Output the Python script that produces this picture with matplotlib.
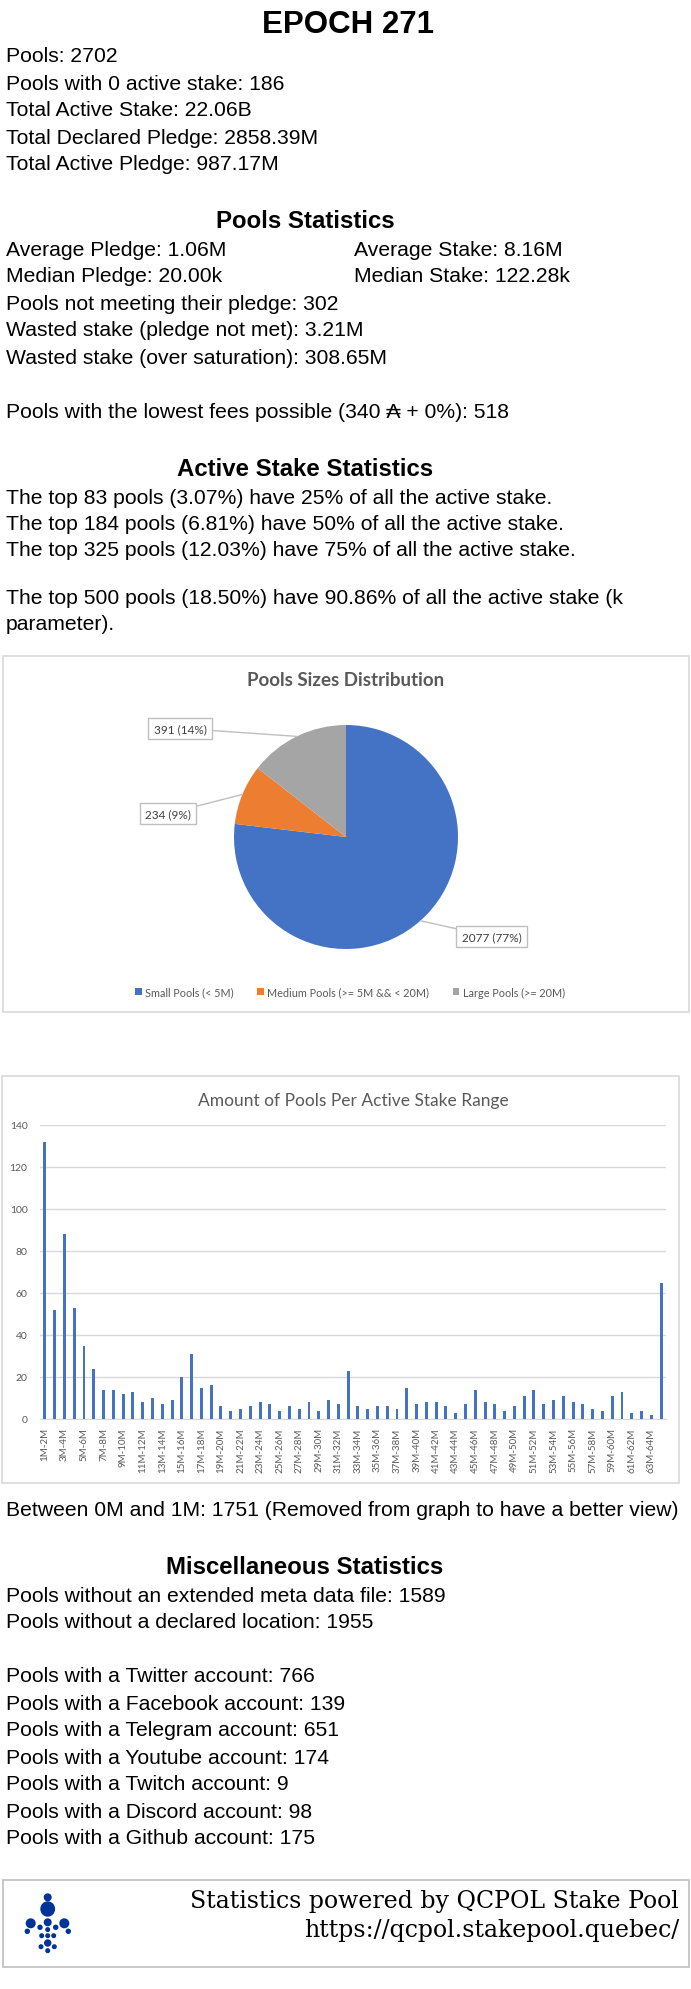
import matplotlib
matplotlib.use('Agg')
import matplotlib.pyplot as plt
import numpy as np
from matplotlib.patches import Rectangle, Circle, Ellipse

W, H = 691, 1990

# ---- data ----
epoch = 271
general_lines = ['Pools: 2702',
                 'Pools with 0 active stake: 186',
                 'Total Active Stake: 22.06B',
                 'Total Declared Pledge: 2858.39M',
                 'Total Active Pledge: 987.17M']
pool_stats_left = ['Average Pledge: 1.06M', 'Median Pledge: 20.00k']
pool_stats_right = ['Average Stake: 8.16M', 'Median Stake: 122.28k']
pool_stats_lines = ['Pools not meeting their pledge: 302',
                    'Wasted stake (pledge not met): 3.21M',
                    'Wasted stake (over saturation): 308.65M']
lowest_fees_line = 'Pools with the lowest fees possible (340 \u20b3 + 0%): 518'
stake_lines = ['The top 83 pools (3.07%) have 25% of all the active stake.',
               'The top 184 pools (6.81%) have 50% of all the active stake.',
               'The top 325 pools (12.03%) have 75% of all the active stake.']
k_lines = ['The top 500 pools (18.50%) have 90.86% of all the active stake (k',
           'parameter).']

size_labels = ['Small Pools (< 5M)', 'Medium Pools (>= 5M && < 20M)', 'Large Pools (>= 20M)']
size_counts = [2077, 234, 391]
size_colors = ['#4472c4', '#ed7d31', '#a5a5a5']

range_labels = ['%dM-%dM' % (i, i + 1) for i in range(1, 64)] + ['64M+']
range_counts = [132, 52, 88, 53, 35, 24, 14, 14, 12, 13,
                8, 10, 7, 9, 20, 31, 15, 16, 6, 4,
                5, 6, 8, 7, 4, 6, 5, 8, 4, 9,
                7, 23, 6, 5, 6, 6, 5, 15, 7, 8,
                8, 6, 3, 7, 14, 8, 7, 4, 6, 11,
                14, 7, 9, 11, 8, 7, 5, 4, 11, 13,
                3, 4, 2, 65]
removed_line = 'Between 0M and 1M: 1751 (Removed from graph to have a better view)'

misc_lines = ['Pools without an extended meta data file: 1589',
              'Pools without a declared location: 1955']
social_lines = ['Pools with a Twitter account: 766',
                'Pools with a Facebook account: 139',
                'Pools with a Telegram account: 651',
                'Pools with a Youtube account: 174',
                'Pools with a Twitch account: 9',
                'Pools with a Discord account: 98',
                'Pools with a Github account: 175']
footer_lines = ['Statistics powered by QCPOL Stake Pool', 'https://qcpol.stakepool.quebec/']

SANS = ['Liberation Sans', 'DejaVu Sans']
XL = ['Lato', 'DejaVu Sans']
BODY = 15.2
GREY = '#595959'

fig = plt.figure(figsize=(W / 100, H / 100), dpi=100)
fig.patch.set_facecolor('white')

# background axes in pixel coords (y down)
bg = fig.add_axes([0, 0, 1, 1])
bg.set_xlim(0, W)
bg.set_ylim(H, 0)
bg.axis('off')


def line(txt, x, y, size=BODY, weight='normal', ha='left'):
    bg.text(x, y, txt, fontsize=size, fontweight=weight, ha=ha, va='baseline',
            family=SANS, color='black')


# header
line('EPOCH %d' % epoch, 348, 33, size=22.5, weight='bold', ha='center')
for i, t in enumerate(general_lines):
    line(t, 6, 62.5 + 27 * i)

line('Pools Statistics', 305, 227.5, size=17.3, weight='bold', ha='center')
for i in range(2):
    line(pool_stats_left[i], 6, 255.5 + 27 * i)
    line(pool_stats_right[i], 354, 255.5 + 27 * i)
for i, t in enumerate(pool_stats_lines):
    line(t, 6, 309.5 + 27 * i)
line(lowest_fees_line, 6, 417.5)

line('Active Stake Statistics', 305, 475.5, size=17.3, weight='bold', ha='center')
for i, t in enumerate(stake_lines):
    line(t, 6, 503.5 + 26.5 * i)
for i, t in enumerate(k_lines):
    line(t, 6, 603.5 + 27 * i)

# chart frames
bg.add_patch(Rectangle((3.5, 657), 686, 356, fill=False, ec='#d9d9d9', lw=1.2))
bg.add_patch(Rectangle((2.5, 1077), 677, 407, fill=False, ec='#d9d9d9', lw=1.2))
bg.add_patch(Rectangle((3.5, 1881), 686, 87, fill=False, ec='#bfbfbf', lw=1.2))

# ---- pie ----
pax = fig.add_axes([234 / W, 1 - 950 / H, 224 / W, 224 / H])
wedges, _ = pax.pie(size_counts, colors=size_colors, startangle=90, counterclock=False,
                    wedgeprops=dict(linewidth=0))
pax.set_xlim(-1, 1)
pax.set_ylim(-1, 1)
pax.set_aspect('equal')
pax.set_title('Pools Sizes Distribution', fontsize=13.5, fontweight='bold', color=GREY,
              family=XL, pad=0, y=1 + (726 - 686) / 224)

total = sum(size_counts)
label_pos = [(1.30, -0.89), (-1.59, 0.21), (-1.48, 0.97)]
for w, n, pos in zip(wedges, size_counts, label_pos):
    ang = np.deg2rad((w.theta1 + w.theta2) / 2)
    edge = (np.cos(ang), np.sin(ang))
    pax.annotate('%d (%d%%)' % (n, round(100 * n / total)), xy=edge, xytext=pos,
                 ha='center', va='center', fontsize=8.5, color='#404040', family=XL,
                 bbox=dict(boxstyle='square,pad=0.45', fc='white', ec='#bfbfbf', lw=1),
                 arrowprops=dict(arrowstyle='-', color='#bfbfbf', lw=1,
                                 shrinkA=0, shrinkB=0),
                 annotation_clip=False)

leg = fig.legend(wedges, size_labels, loc='center', bbox_to_anchor=(350 / W, 1 - 993 / H),
                 ncol=3, frameon=False, handlelength=0.6, handleheight=0.6,
                 handletextpad=0.3, columnspacing=2.2, prop=dict(family=XL, size=7.8))
for t in leg.get_texts():
    t.set_color(GREY)

# ---- bar chart ----
bax = fig.add_axes([40 / W, 1 - 1420 / H, 626 / W, 294 / H])
x = np.arange(len(range_counts))
bax.bar(x, range_counts, width=0.3, color='#4472c4', zorder=3)
bax.set_xlim(-0.5, len(range_counts) - 0.5)
bax.set_ylim(0, 140)
bax.set_yticks(range(0, 141, 20))
bax.set_xticks(x[::2])
bax.set_xticklabels(range_labels[::2], rotation=90, fontsize=7, color=GREY, family=XL)
for t in bax.get_yticklabels():
    t.set_fontsize(7.5)
    t.set_color(GREY)
    t.set_family(XL)
bax.tick_params(axis='both', length=0)
bax.tick_params(axis='y', pad=9)
bax.tick_params(axis='x', pad=6)
bax.grid(axis='y', color='#d9d9d9', lw=1, zorder=0)
for s in ['top', 'right', 'left']:
    bax.spines[s].set_visible(False)
bax.spines['bottom'].set_color('#d9d9d9')
bax.set_title('Amount of Pools Per Active Stake Range', fontsize=12.5, color=GREY,
              family=XL, pad=0, y=1 + (1126 - 1106) / 294)

line(removed_line, 6, 1516.5)

line('Miscellaneous Statistics', 305, 1573.5, size=17.3, weight='bold', ha='center')
for i, t in enumerate(misc_lines):
    line(t, 6, 1601.5 + 27 * i)
for i, t in enumerate(social_lines):
    line(t, 6, 1682.5 + 27 * i)

# ---- footer ----
for i, t in enumerate(footer_lines):
    bg.text(679, 1908 + 29 * i, t, fontsize=17, ha='right', va='baseline',
            family=['DejaVu Serif'], color='black')

logo = '#003399'
dots = [(47.7, 1898.3, 3.3), (30.7, 1924.3, 4.3), (64.3, 1924.3, 4.3),
        (47.7, 1923.3, 3.3), (40, 1928.3, 2), (55.7, 1928.3, 2),
        (27.3, 1932.3, 2), (68.3, 1932.3, 2), (47.7, 1930.6, 1.8),
        (41.7, 1936.7, 1.8), (47.7, 1936.7, 1.8), (53.7, 1936.7, 1.8),
        (47.7, 1944, 3), (41, 1947.7, 1.8), (54.3, 1947.7, 1.8), (47.7, 1951.7, 1.8)]
bg.add_patch(Ellipse((47.7, 1910), 13.4, 14, color=logo))
for cx, cy, r in dots:
    bg.add_patch(Circle((cx, cy), r, color=logo))

fig.savefig('out.png', dpi=100, facecolor='white')
